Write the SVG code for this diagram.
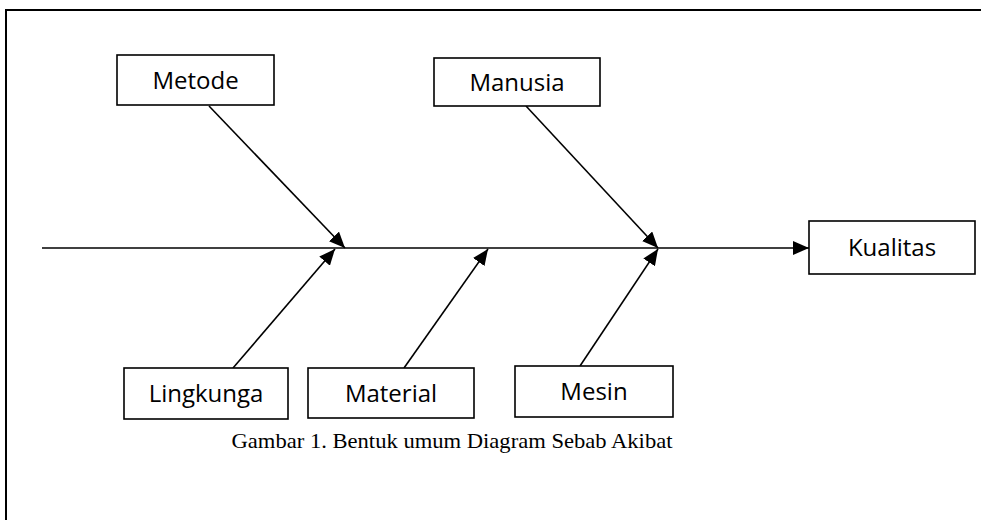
<svg xmlns="http://www.w3.org/2000/svg" width="981" height="520" viewBox="0 0 981 520">
<style>
.box{fill:#fff;stroke:#000;stroke-width:1.6}
.lbl{font-family:"Open Sans","Noto Sans",sans-serif;font-size:24px;fill:#000;text-anchor:middle}
.cn{stroke:#000;stroke-width:1.6;fill:none;marker-end:url(#ah)}
.cap{font-family:"Liberation Serif",serif;font-size:22px;fill:#000;text-anchor:middle}
</style>
<defs>
<marker id="ah" markerUnits="userSpaceOnUse" markerWidth="18" markerHeight="14" refX="16" refY="7" orient="auto">
<path d="M0,0 L16,7 L0,14 Z" fill="#000"/>
</marker>
</defs>
<rect width="981" height="520" fill="#fff"/>
<path d="M6,525 V10 H990" fill="none" stroke="#000" stroke-width="2"/>
<g id="connectors">
<line class="cn" x1="42" y1="248" x2="809" y2="248"/>
<line class="cn" x1="209" y1="106" x2="345" y2="248"/>
<line class="cn" x1="526" y1="106" x2="658" y2="248"/>
<line class="cn" x1="233" y1="368" x2="335" y2="249"/>
<line class="cn" x1="404" y1="368" x2="488" y2="249"/>
<line class="cn" x1="580" y1="366" x2="658" y2="249"/>
</g>
<g id="metode"><rect class="box" x="117" y="55" width="157" height="50"/><text class="lbl" x="195.5" y="89">Metode</text></g>
<g id="manusia"><rect class="box" x="434" y="58" width="166" height="48"/><text class="lbl" x="517" y="91">Manusia</text></g>
<g id="kualitas"><rect class="box" x="809" y="221" width="166" height="53"/><text class="lbl" x="892" y="256">Kualitas</text></g>
<g id="lingkunga"><rect class="box" x="124" y="368" width="164" height="51"/><text class="lbl" x="206" y="402">Lingkunga</text></g>
<g id="material"><rect class="box" x="308" y="368" width="166" height="50"/><text class="lbl" x="391" y="402">Material</text></g>
<g id="mesin"><rect class="box" x="515" y="366" width="158" height="51"/><text class="lbl" x="594" y="400">Mesin</text></g>
<g id="caption"><text class="cap" x="452" y="448" textLength="441" lengthAdjust="spacingAndGlyphs">Gambar 1. Bentuk umum Diagram Sebab Akibat</text></g>
</svg>
